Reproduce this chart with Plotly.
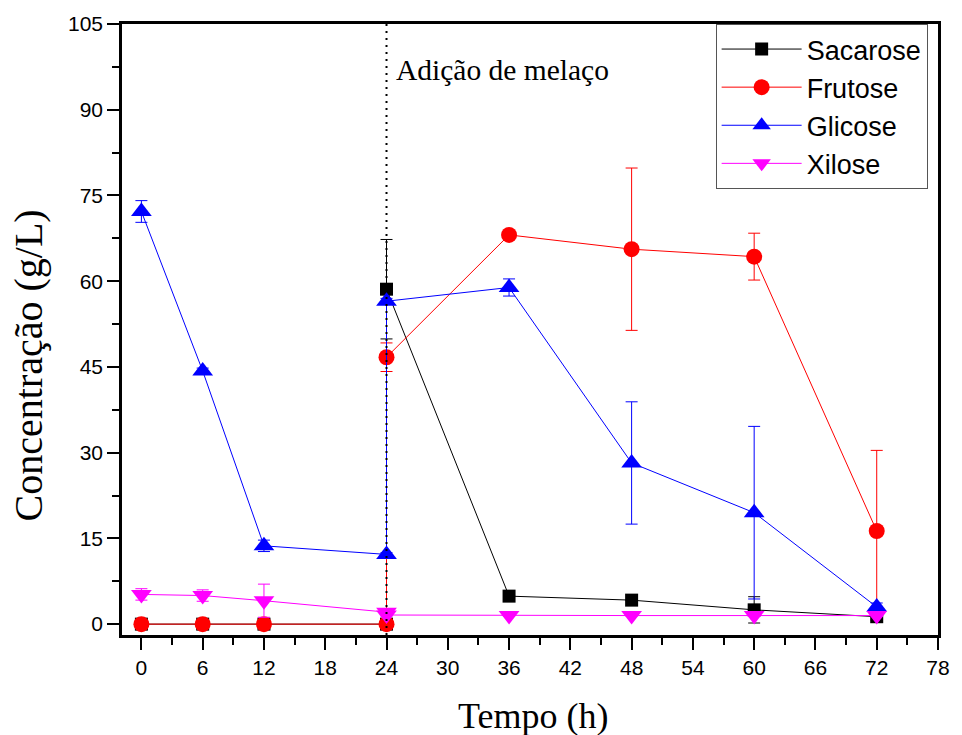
import plotly.graph_objects as go

# Sampling times (h); 24 h appears twice: before and after molasses addition
tempo = [0, 6, 12, 24, 24, 36, 48, 60, 72]

sacarose = [0, 0, 0, 0, 58.6, 4.9, 4.2, 2.5, 1.3]
sacarose_err = [0, 0, 0, 0, 8.7, 0, 0, 2.3, 0.6]

frutose = [0, 0, 0, 0, 46.7, 68.1, 65.6, 64.3, 16.3]
frutose_err = [0, 0, 0, 0, 2.5, 0.3, 14.2, 4.1, 14.1]

glicose = [72.2, 44.3, 13.7, 12.2, 56.5, 58.9, 28.2, 19.5, 3.0]
glicose_err = [1.9, 0.5, 1.0, 0.3, 0.5, 1.5, 10.7, 15.1, 0.7]

xilose = [5.2, 5.0, 4.1, 2.1, 1.6, 1.5, 1.5, 1.5, 1.5]
xilose_err = [1.0, 1.0, 2.9, 0.3, 0.2, 0.1, 0.1, 0.1, 0.1]

series = [
    ("Sacarose", sacarose, sacarose_err, "#000000", "square", 13),
    ("Frutose", frutose, frutose_err, "#ff0000", "circle", 16),
    ("Glicose", glicose, glicose_err, "#0000ff", "triangle-up", 18),
    ("Xilose", xilose, xilose_err, "#ff00ff", "triangle-down", 18),
]

x_ticks = list(range(0, 79, 6))
y_ticks = list(range(0, 106, 15))

fig = go.Figure()

# Molasses addition marker
fig.add_shape(type="line", x0=24, x1=24, y0=-1.9, y1=105, xref="x", yref="y",
              line=dict(color="black", width=2, dash="2px,5px"), layer="above")

for name, vals, err, color, sym, size in series:
    fig.add_trace(go.Scatter(
        x=tempo, y=vals, name=name, mode="lines+markers",
        line=dict(color=color, width=1),
        marker=dict(symbol=sym, size=size, color=color, line=dict(width=0)),
        error_y=dict(type="data", array=err, visible=True, color=color,
                     thickness=1, width=6),
    ))

fig.add_annotation(x=24, y=97, xref="x", yref="y", text="Adição de melaço",
                   showarrow=False, xanchor="left", yanchor="middle", xshift=7,
                   font=dict(family="Liberation Serif", size=29.5, color="black"))

# Axis titles
fig.add_annotation(x=0.5036, y=-0.1333, xref="paper", yref="paper", text="Tempo (h)",
                   showarrow=False, xanchor="center", yanchor="middle",
                   font=dict(family="Liberation Serif", size=36, color="black"))
fig.add_annotation(x=-0.1146, y=0.442, xref="paper", yref="paper", text="Concentração (g/L)",
                   showarrow=False, xanchor="center", yanchor="middle", textangle=-90,
                   font=dict(family="Liberation Serif", size=40, color="black"))

axis_common = dict(
    showline=True, linecolor="black", linewidth=2.5, mirror=True,
    ticks="outside", ticklen=12, tickwidth=2, tickcolor="black",
    showgrid=False, zeroline=False,
    tickfont=dict(family="Liberation Sans", size=21, color="black"),
)

fig.update_xaxes(
    range=[-1.9, 78], tickvals=x_ticks,
    minor=dict(ticks="outside", ticklen=7, tickwidth=2, tickcolor="black", dtick=3, tick0=0),
    **axis_common,
)
fig.update_yaxes(
    range=[-1.9, 105], tickvals=y_ticks,
    minor=dict(ticks="outside", ticklen=7, tickwidth=2, tickcolor="black", dtick=7.5, tick0=0),
    **axis_common,
)

fig.update_layout(
    width=962, height=735,
    margin=dict(l=122, r=14, t=20, b=100),
    plot_bgcolor="white", paper_bgcolor="white",
    legend=dict(x=0.7275, y=1.0, xanchor="left", yanchor="top",
                bgcolor="white", bordercolor="#555", borderwidth=1,
                font=dict(family="Liberation Sans", size=27, color="black"),
                tracegroupgap=0, itemwidth=80),
    showlegend=True,
)

fig.write_html("out.html")
